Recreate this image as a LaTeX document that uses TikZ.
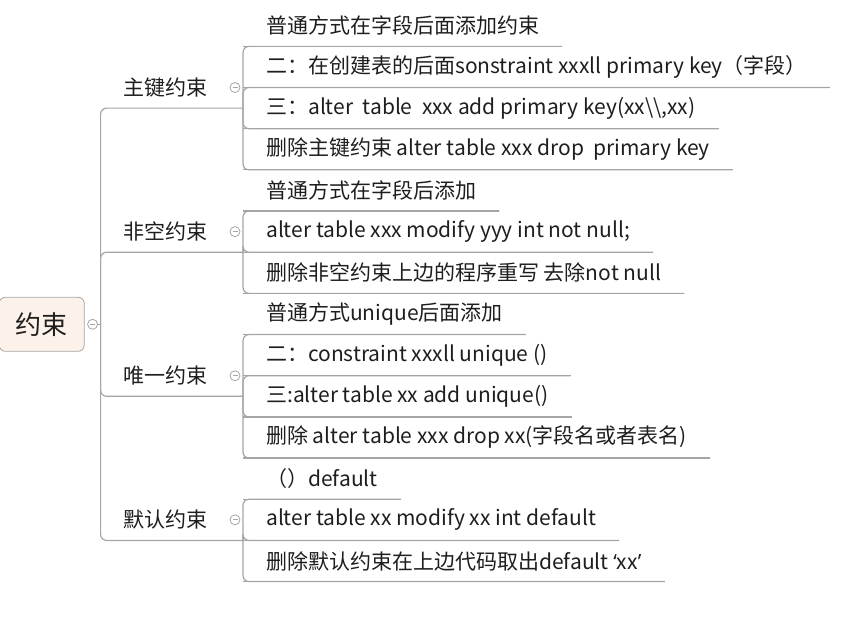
\documentclass[tikz,border=0pt]{standalone}
\usepackage{fontspec}
\setmainfont{Noto Sans CJK SC}
\newfontfamily\latinquote{Open Sans}
\usetikzlibrary{positioning,calc}
\definecolor{linegray}{HTML}{A5A5A5}
\definecolor{rootfill}{HTML}{FDF2E9}
\definecolor{inkgray}{HTML}{1E1E1E}
\tikzset{
  line/.style={draw=linegray, line width=1.2pt},
  conn/.style={line, rounded corners=6pt},
  leaf/.style={anchor=north west, inner xsep=23pt, inner ysep=0pt, minimum height=40.77pt, text=inkgray, font=\fontsize{21}{24}\selectfont,
    append after command={(\tikzlastnode.south west) edge[line] (\tikzlastnode.south east)}},
  branch/.style={anchor=south east, text width=96pt, align=left, inner xsep=23pt, inner ysep=0pt, minimum height=40.77pt, text=inkgray, font=\fontsize{21}{24}\selectfont},
  rootbox/.style={rectangle, rounded corners=6pt, draw=gray!70, line width=0.8pt, fill=rootfill, minimum width=85pt, minimum height=54pt, text=inkgray, font=\fontsize{26}{30}\selectfont},
  btn/.style={circle, draw=linegray, fill=white, line width=0.8pt, minimum size=10pt, inner sep=0pt,
    path picture={\draw[linegray, line width=0.8pt] ([xshift=-2.5pt]path picture bounding box.center) -- ([xshift=2.5pt]path picture bounding box.center);}}
}
\begin{document}
\begin{tikzpicture}[x=1pt, y=1pt]
  \useasboundingbox (0,0) rectangle (849,-631);

  % 主键约束
  \node[leaf] (pk1) at (243,-5.2) {普通方式在字段后面添加约束};
  \node[leaf] (pk2) at (pk1.south west) {二：在创建表的后面sonstraint xxxll primary key（字段）};
  \node[leaf] (pk3) at (pk2.south west) {三：alter\ \ table\ \ xxx add primary key(xx\textbackslash\textbackslash,xx)};
  \node[leaf] (pk4) at (pk3.south west) {删除主键约束 alter table xxx drop\ \ primary key};
  % 非空约束
  \node[leaf] (nn1) at (pk4.south west) {普通方式在字段后添加};
  \node[leaf] (nn2) at (nn1.south west) {alter table xxx modify yyy int not null;};
  \node[leaf] (nn3) at (nn2.south west) {删除非空约束上边的程序重写 去除not null};
  % 唯一约束
  \node[leaf] (uq1) at (nn3.south west) {普通方式unique后面添加};
  \node[leaf] (uq2) at (uq1.south west) {二：constraint xxxll unique ()};
  \node[leaf] (uq3) at (uq2.south west) {三:alter table xx add unique()};
  \node[leaf] (uq4) at (uq3.south west) {删除 alter table xxx drop xx(字段名或者表名)};
  % 默认约束
  \node[leaf] (df1) at (uq4.south west) {（）default};
  \node[leaf] (df2) at (df1.south west) {alter table xx modify xx int default};
  \node[leaf] (df3) at (df2.south west) {删除默认约束在上边代码取出default {\latinquote ‘}xx{\latinquote ’}};

  % second level
  \node[branch] (pk) at ($(pk1.south west)!.5!(pk4.south west)$) {主键约束};
  \node[branch] (nn) at ($(nn1.south west)!.5!(nn3.south west)$) {非空约束};
  \node[branch] (uq) at ($(uq1.south west)!.5!(uq4.south west)$) {唯一约束};
  \node[branch] (df) at ($(df1.south west)!.5!(df3.south west)$) {默认约束};

  % root
  \node[rootbox, anchor=east] (root) at ($(pk.south west)!.5!(df.south west)+(-16,0)$) {约束};
  \node[btn] (rootbtn) at ([xshift=8pt]root.east) {};

  % connectors
  \draw[line] (rootbtn.east) -- (rootbtn.east -| pk.south west);
  \foreach \b in {pk,nn,uq,df}
    \draw[conn] (rootbtn.east -| pk.south west) |- (\b.south east);
  \foreach \l in {pk1,pk2,pk3,pk4}
    \draw[conn] (pk.south east) |- (\l.south east);
  \foreach \l in {nn1,nn2,nn3}
    \draw[conn] (nn.south east) |- (\l.south east);
  \foreach \l in {uq1,uq2,uq3,uq4}
    \draw[conn] (uq.south east) |- (\l.south east);
  \foreach \l in {df1,df2,df3}
    \draw[conn] (df.south east) |- (\l.south east);

  % collapse buttons
  \foreach \b in {pk,nn,uq,df}
    \node[btn] (\b btn) at ([xshift=-8pt]\b.east) {};
\end{tikzpicture}
\end{document}
